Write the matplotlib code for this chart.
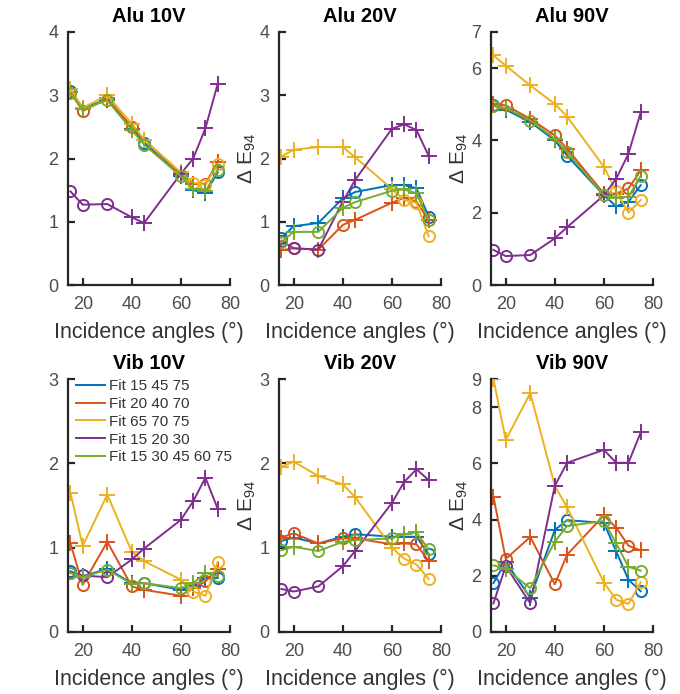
import matplotlib
matplotlib.use("Agg")
import matplotlib.pyplot as plt

plt.rcParams["font.family"] = ["Liberation Sans", "DejaVu Sans"]
plt.rcParams["mathtext.fontset"] = "custom"
plt.rcParams["mathtext.rm"] = "Liberation Sans"
plt.rcParams["mathtext.it"] = "Liberation Sans:italic"

# incidence angles (deg)
angles = [15, 20, 30, 40, 45, 60, 65, 70, 75]

fit_labels = ["Fit 15 45 75", "Fit 20 40 70", "Fit 65 70 75", "Fit 15 20 30", "Fit 15 30 45 60 75"]
fit_angles = [[15, 45, 75], [20, 40, 70], [65, 70, 75], [15, 20, 30], [15, 30, 45, 60, 75]]
fit_colors = ["#0072BD", "#D95319", "#EDB120", "#7E2F8E", "#77AC30"]

titles = ["Alu 10V", "Alu 20V", "Alu 90V", "Vib 10V", "Vib 20V", "Vib 90V"]
y_limits = [4, 4, 7, 3, 3, 9]
y_ticks = [[0, 1, 2, 3, 4], [0, 1, 2, 3, 4], [0, 2, 4, 6, 7],
           [0, 1, 2, 3], [0, 1, 2, 3], [0, 2, 4, 6, 8, 9]]

# delta E94 per panel, one list per fit (blue, red, yellow, purple, green)
alu_10 = [
    [3.07, 2.80, 2.93, 2.47, 2.25, 1.72, 1.50, 1.45, 1.78],
    [3.05, 2.75, 2.95, 2.50, 2.30, 1.75, 1.60, 1.60, 1.95],
    [3.10, 2.80, 3.00, 2.55, 2.30, 1.78, 1.62, 1.58, 1.92],
    [1.48, 1.27, 1.28, 1.07, 0.98, 1.76, 2.00, 2.48, 3.18],
    [3.03, 2.78, 2.92, 2.45, 2.22, 1.72, 1.52, 1.48, 1.82],
]
alu_20 = [
    [0.75, 0.93, 0.98, 1.37, 1.47, 1.58, 1.58, 1.53, 1.08],
    [0.55, 0.58, 0.56, 0.95, 1.03, 1.30, 1.38, 1.32, 1.02],
    [2.03, 2.14, 2.18, 2.18, 2.02, 1.52, 1.34, 1.30, 0.77],
    [0.70, 0.58, 0.56, 1.32, 1.66, 2.47, 2.54, 2.45, 2.04],
    [0.68, 0.84, 0.84, 1.22, 1.31, 1.49, 1.51, 1.45, 1.03],
]
alu_90 = [
    [4.97, 4.85, 4.51, 4.00, 3.58, 2.48, 2.18, 2.30, 2.76],
    [5.01, 4.97, 4.60, 4.14, 3.77, 2.53, 2.53, 2.67, 3.17],
    [6.35, 6.07, 5.52, 5.01, 4.66, 3.27, 2.60, 2.00, 2.35],
    [0.97, 0.80, 0.83, 1.29, 1.60, 2.48, 2.94, 3.63, 4.78],
    [4.95, 4.90, 4.55, 4.05, 3.68, 2.48, 2.41, 2.44, 3.02],
]
vib_10 = [
    [0.72, 0.66, 0.75, 0.58, 0.58, 0.50, 0.54, 0.64, 0.64],
    [1.05, 0.56, 1.07, 0.54, 0.50, 0.43, 0.52, 0.60, 0.75],
    [1.65, 1.02, 1.63, 0.95, 0.84, 0.62, 0.48, 0.43, 0.83],
    [0.70, 0.67, 0.65, 0.86, 0.99, 1.33, 1.55, 1.83, 1.46],
    [0.70, 0.65, 0.74, 0.57, 0.58, 0.52, 0.58, 0.70, 0.66],
]
vib_20 = [
    [1.08, 1.12, 1.05, 1.13, 1.16, 1.13, 1.13, 1.13, 0.92],
    [1.12, 1.17, 1.05, 1.11, 1.11, 1.04, 1.05, 1.04, 0.84],
    [1.96, 2.02, 1.85, 1.75, 1.60, 1.00, 0.87, 0.80, 0.63],
    [0.51, 0.48, 0.54, 0.78, 0.96, 1.53, 1.78, 1.93, 1.80],
    [0.97, 1.01, 0.96, 1.07, 1.09, 1.11, 1.16, 1.18, 0.98],
]
vib_90 = [
    [1.74, 2.50, 1.22, 3.63, 3.98, 3.88, 2.87, 1.86, 1.45],
    [4.81, 2.60, 3.38, 1.70, 2.75, 4.15, 3.71, 3.07, 2.90],
    [9.00, 6.83, 8.50, 5.20, 4.43, 1.76, 1.15, 1.00, 1.77],
    [1.02, 2.35, 1.02, 5.20, 6.02, 6.48, 6.02, 6.02, 7.10],
    [2.37, 2.25, 1.56, 3.21, 3.77, 3.95, 3.15, 2.32, 2.18],
]
panels = [alu_10, alu_20, alu_90, vib_10, vib_20, vib_90]

W, H = 680, 694
fig = plt.figure(figsize=(W / 100, H / 100), dpi=100)

col_left = [68, 279, 491]
row_bottom = [285, 632]
ax_w, ax_h = 162, 253

for i, (title, data) in enumerate(zip(titles, panels)):
    row, col = divmod(i, 3)
    ax = fig.add_axes([col_left[col] / W, 1 - row_bottom[row] / H, ax_w / W, ax_h / H])

    for label, fa, color, vals in zip(fit_labels, fit_angles, fit_colors, data):
        ax.plot(angles, vals, color=color, lw=1.4, label=label)
        xo = [a for a, v in zip(angles, vals) if a in fa]
        yo = [v for a, v in zip(angles, vals) if a in fa]
        xp = [a for a, v in zip(angles, vals) if a not in fa]
        yp = [v for a, v in zip(angles, vals) if a not in fa]
        ax.plot(xo, yo, ls="none", marker="o", ms=8, mfc="none", mec=color, mew=1.4)
        ax.plot(xp, yp, ls="none", marker="+", ms=11, mec=color, mew=1.4)

    ax.set_xlim(14, 80)
    ax.set_ylim(0, y_limits[i])
    ax.set_xticks([20, 40, 60, 80])
    ax.set_yticks(y_ticks[i])
    for side in ["top", "right"]:
        ax.spines[side].set_visible(False)
    for side in ["left", "bottom"]:
        ax.spines[side].set_linewidth(1.6)
        ax.spines[side].set_color("#262626")
    ax.tick_params(direction="in", length=5, width=1.6, color="#262626",
                   labelsize=13, labelcolor="#4d4d4d")
    ax.tick_params(axis="x", pad=8)
    ax.tick_params(axis="y", pad=7)
    ax.set_title(title, fontsize=14.5, fontweight="bold", pad=7)
    ax.set_xlabel("Incidence angles (°)", fontsize=15.5, color="#333333", labelpad=6)
    if col > 0:
        ax.set_ylabel("Δ E$_{94}$", fontsize=15, color="#333333", labelpad=1)

    if i == 3:
        ax.legend(loc="upper left", fontsize=11, frameon=False, handlelength=1.9,
                  handletextpad=0.3, labelspacing=0.25, borderaxespad=0.1,
                  bbox_to_anchor=(0.0, 1.03), labelcolor="#333333")

fig.savefig("out.png", dpi=100)
